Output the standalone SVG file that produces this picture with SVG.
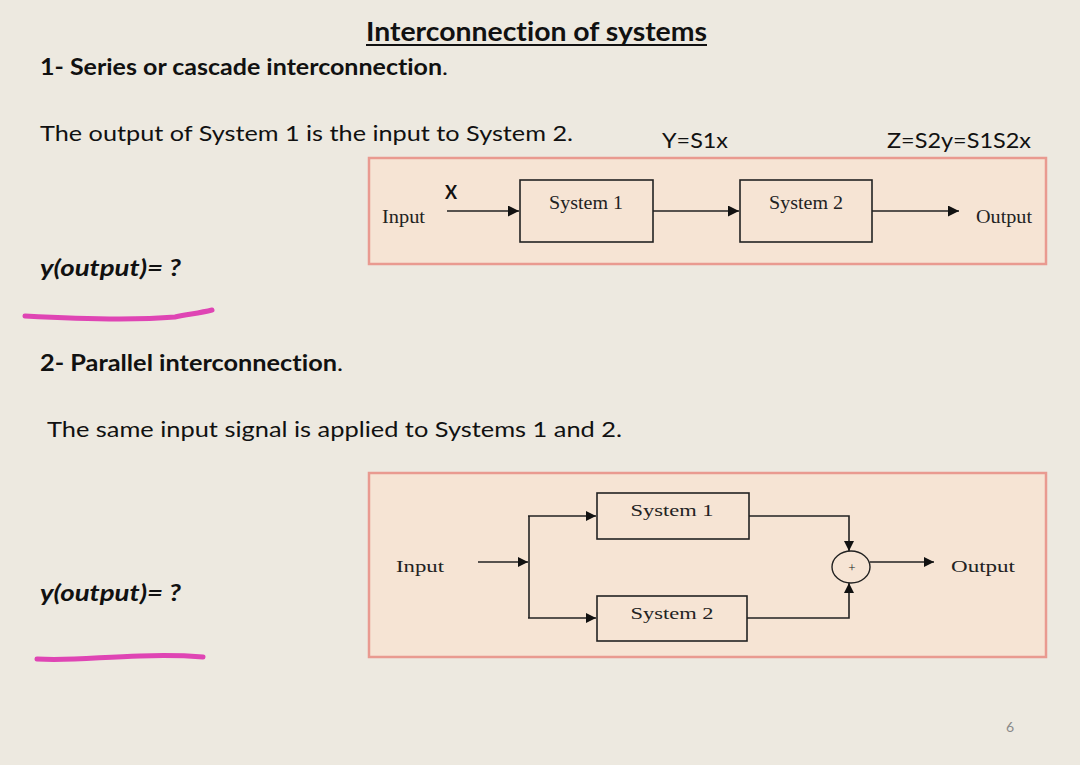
<svg xmlns="http://www.w3.org/2000/svg" width="1080" height="765" viewBox="0 0 1080 765">
<defs>
<style>
.cal{font-family:Lato,"Open Sans","Liberation Sans",sans-serif;fill:#111;font-variant-ligatures:none}
.ser{font-family:"Liberation Serif","DejaVu Serif",serif;fill:#222}
.panel{fill:#f6e4d4;stroke:#e99a90;stroke-width:2.5}
.blk{fill:none;stroke:#222;stroke-width:1.6}
.ln{fill:none;stroke:#222;stroke-width:1.6}
.pink{fill:none;stroke:#df45b4;stroke-width:5;stroke-linecap:round}
</style>
<marker id="ah" viewBox="0 0 10 10" refX="10" refY="5" markerWidth="11" markerHeight="10" markerUnits="userSpaceOnUse" orient="auto">
<path d="M0,0 L10,5 L0,10 z" fill="#111"/>
</marker>
<marker id="ah2" viewBox="0 0 10 10" refX="10" refY="5" markerWidth="12" markerHeight="11" markerUnits="userSpaceOnUse" orient="auto">
<path d="M0,0 L10,5 L0,10 z" fill="#111"/>
</marker>
</defs>
<rect width="1080" height="765" fill="#ede9e0"/>

<g id="texts">
<text class="cal" x="366" y="41" font-size="26" font-weight="bold" textLength="341" lengthAdjust="spacingAndGlyphs">Interconnection of systems</text>
<line x1="366" y1="45" x2="707" y2="45" stroke="#111" stroke-width="1.8"/>
<text class="cal" x="40" y="75" font-size="22" font-weight="bold" textLength="408" lengthAdjust="spacingAndGlyphs">1- Series or cascade interconnection<tspan font-weight="normal">.</tspan></text>
<text class="cal" x="40" y="141" font-size="22" textLength="533" lengthAdjust="spacingAndGlyphs">The output of System 1 is the input to System 2.</text>
<text class="cal" x="662" y="148" font-size="21" textLength="66" lengthAdjust="spacingAndGlyphs">Y=S1x</text>
<text class="cal" x="887" y="148" font-size="21" textLength="144" lengthAdjust="spacingAndGlyphs">Z=S2y=S1S2x</text>
<text class="cal" x="40" y="276" font-size="22" font-weight="bold" font-style="italic" textLength="141" lengthAdjust="spacingAndGlyphs">y(output)= ?</text>
<text class="cal" x="40" y="371" font-size="22" font-weight="bold" textLength="303" lengthAdjust="spacingAndGlyphs">2- Parallel interconnection<tspan font-weight="normal">.</tspan></text>
<text class="cal" x="47" y="437" font-size="22" textLength="575" lengthAdjust="spacingAndGlyphs">The same input signal is applied to Systems 1 and 2.</text>
<text class="cal" x="40" y="601" font-size="22" font-weight="bold" font-style="italic" textLength="141" lengthAdjust="spacingAndGlyphs">y(output)= ?</text>
<text class="cal" x="1006" y="732" font-size="14" style="fill:#8a8a8a">6</text>
<path class="pink" d="M25,316 C80,319 140,320 175,317 C190,314 200,313 212,310"/>
<path class="pink" d="M37,659 C70,661 100,657 140,656 C170,655 190,656 203,657"/>
</g>

<g id="panel1">
<rect class="panel" x="369" y="158" width="677" height="106"/>
<text class="ser" x="382" y="223" font-size="19" textLength="43" lengthAdjust="spacingAndGlyphs">Input</text>
<text class="cal" x="445" y="199" font-size="18" font-weight="bold">X</text>
<text class="ser" x="976" y="223" font-size="19" textLength="56" lengthAdjust="spacingAndGlyphs">Output</text>
</g>
<g id="s1-sys1">
<rect class="blk" x="520" y="180" width="133" height="62"/>
<text class="ser" x="586" y="209" font-size="19" text-anchor="middle" textLength="74" lengthAdjust="spacingAndGlyphs">System 1</text>
</g>
<g id="s1-sys2">
<rect class="blk" x="740" y="180" width="132" height="62"/>
<text class="ser" x="806" y="209" font-size="19" text-anchor="middle" textLength="74" lengthAdjust="spacingAndGlyphs">System 2</text>
</g>

<g id="panel2">
<rect class="panel" x="369" y="473" width="677" height="184"/>
<text class="ser" x="396" y="572" font-size="17" textLength="48" lengthAdjust="spacingAndGlyphs">Input</text>
<text class="ser" x="951" y="572" font-size="17" textLength="64" lengthAdjust="spacingAndGlyphs">Output</text>
</g>
<g id="p-sys1">
<rect class="blk" x="597" y="493" width="152" height="46"/>
<text class="ser" x="672" y="516" font-size="17" text-anchor="middle" textLength="83" lengthAdjust="spacingAndGlyphs">System 1</text>
</g>
<g id="p-sys2">
<rect class="blk" x="597" y="596" width="150" height="45"/>
<text class="ser" x="672" y="619" font-size="17" text-anchor="middle" textLength="83" lengthAdjust="spacingAndGlyphs">System 2</text>
</g>
<g id="p-sum">
<ellipse cx="851" cy="567" rx="19" ry="16" fill="none" stroke="#222" stroke-width="1.4"/>
<text class="ser" x="852" y="572" font-size="13" text-anchor="middle" fill="#444">+</text>
</g>

<g id="connectors">
<line class="ln" x1="447" y1="211" x2="519" y2="211" marker-end="url(#ah2)"/>
<line class="ln" x1="653" y1="211" x2="739" y2="211" marker-end="url(#ah2)"/>
<line class="ln" x1="872" y1="211" x2="959" y2="211" marker-end="url(#ah2)"/>

<line class="ln" x1="478" y1="562" x2="528" y2="562" marker-end="url(#ah)"/>
<line class="ln" x1="529" y1="516" x2="529" y2="618"/>
<line class="ln" x1="528" y1="516" x2="596" y2="516" marker-end="url(#ah)"/>
<line class="ln" x1="528" y1="618" x2="596" y2="618" marker-end="url(#ah)"/>
<polyline class="ln" points="749,516 849,516 849,551" marker-end="url(#ah)"/>
<polyline class="ln" points="747,618 849,618 849,583" marker-end="url(#ah)"/>
<line class="ln" x1="870" y1="562" x2="934" y2="562" marker-end="url(#ah)"/>
</g>
</svg>
